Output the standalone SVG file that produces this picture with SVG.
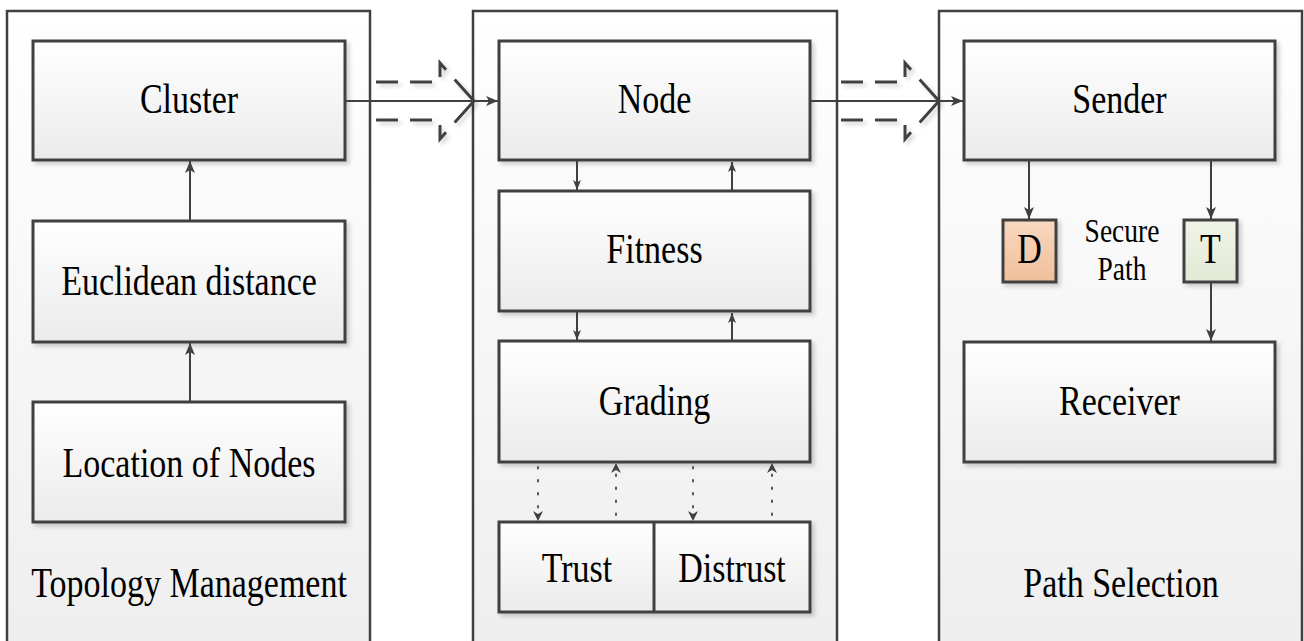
<svg xmlns="http://www.w3.org/2000/svg" width="1304" height="641" viewBox="0 0 1304 641">
  <defs>
    <linearGradient id="boxFill" x1="0" y1="0" x2="0" y2="1">
      <stop offset="0" stop-color="#ffffff"/>
      <stop offset="1" stop-color="#ebebeb"/>
    </linearGradient>
    <linearGradient id="panelFill" x1="0" y1="0" x2="0" y2="1">
      <stop offset="0" stop-color="#ffffff"/>
      <stop offset="1" stop-color="#eeeeee"/>
    </linearGradient>
    <linearGradient id="dFill" x1="0" y1="0" x2="0" y2="1">
      <stop offset="0" stop-color="#f8d8c0"/>
      <stop offset="1" stop-color="#f1bf9a"/>
    </linearGradient>
    <linearGradient id="tFill" x1="0" y1="0" x2="0" y2="1">
      <stop offset="0" stop-color="#f0f4e8"/>
      <stop offset="1" stop-color="#e2e9d4"/>
    </linearGradient>
    <filter id="shadow" x="-10%" y="-10%" width="130%" height="130%">
      <feDropShadow dx="3" dy="3" stdDeviation="2" flood-color="#000" flood-opacity="0.18"/>
    </filter>
    <marker id="arrow" viewBox="0 0 12 10" refX="12" refY="5" markerWidth="12" markerHeight="10" markerUnits="userSpaceOnUse" orient="auto">
      <path d="M0,0 L12,5 L0,10 L3,5 z" fill="#404040"/>
    </marker>
    <marker id="arrowSmall" viewBox="0 0 10 8" refX="10" refY="4" markerWidth="10" markerHeight="8" markerUnits="userSpaceOnUse" orient="auto">
      <path d="M0,0 L10,4 L0,8 L2.5,4 z" fill="#404040"/>
    </marker>
    <style>
      .panel { fill: url(#panelFill); stroke: #404040; stroke-width: 2.5; }
      .box { fill: url(#boxFill); stroke: #404040; stroke-width: 3; filter: url(#shadow); }
      .t { font-family: 'Liberation Serif', serif; font-size: 34px; fill: #000; text-anchor: middle; }
      .ts { font-family: 'Liberation Serif', serif; font-size: 27.5px; fill: #000; text-anchor: middle; }
      .link { stroke: #404040; stroke-width: 2; fill: none; }
      .dotted { stroke: #555555; stroke-width: 2; fill: none; stroke-dasharray: 1.5 11.5; stroke-linecap: round; }
      .hollow { stroke: #404040; stroke-width: 3; fill: none; stroke-dasharray: 22 12 22 13 23 13 40; filter: url(#shadow); }
    </style>
  </defs>

  <!-- Panels -->
  <g id="panel-topology">
    <rect class="panel" x="7" y="11" width="363" height="640"/>
    <text class="t" transform="translate(189,597) scale(1,1.24)">Topology Management</text>
  </g>
  <g id="panel-trust">
    <rect class="panel" x="473" y="11" width="364" height="640"/>
  </g>
  <g id="panel-path">
    <rect class="panel" x="939" y="11" width="363" height="640"/>
    <text class="t" transform="translate(1121,597) scale(1,1.24)">Path Selection</text>
  </g>

  <!-- Topology management nodes -->
  <g id="node-cluster">
    <rect class="box" x="33" y="41" width="312" height="119"/>
    <text class="t" transform="translate(189,113) scale(1,1.24)">Cluster</text>
  </g>
  <g id="node-euclidean">
    <rect class="box" x="33" y="221" width="312" height="121"/>
    <text class="t" transform="translate(189,295) scale(1,1.24)">Euclidean distance</text>
  </g>
  <g id="node-location">
    <rect class="box" x="33" y="402" width="312" height="120"/>
    <text class="t" transform="translate(189,477) scale(1,1.24)">Location of Nodes</text>
  </g>

  <!-- Trust evaluation nodes -->
  <g id="node-node">
    <rect class="box" x="499" y="41" width="311" height="119"/>
    <text class="t" transform="translate(654.5,113) scale(1,1.24)">Node</text>
  </g>
  <g id="node-fitness">
    <rect class="box" x="499" y="191" width="311" height="120"/>
    <text class="t" transform="translate(654.5,263) scale(1,1.24)">Fitness</text>
  </g>
  <g id="node-grading">
    <rect class="box" x="499" y="341" width="311" height="121"/>
    <text class="t" transform="translate(654.5,415) scale(1,1.24)">Grading</text>
  </g>
  <g id="node-trust-distrust">
    <rect class="box" x="499" y="522" width="311" height="90"/>
    <line x1="654" y1="522" x2="654" y2="612" stroke="#404040" stroke-width="3"/>
    <text class="t" transform="translate(577,582) scale(1,1.24)">Trust</text>
    <text class="t" transform="translate(732,582) scale(1,1.24)">Distrust</text>
  </g>

  <!-- Path selection nodes -->
  <g id="node-sender">
    <rect class="box" x="964" y="41" width="311" height="119"/>
    <text class="t" transform="translate(1119.5,113) scale(1,1.24)">Sender</text>
  </g>
  <g id="node-d">
    <rect class="box" x="1003" y="220" width="53" height="62" style="fill:url(#dFill)"/>
    <text class="t" transform="translate(1029.5,263) scale(1,1.24)">D</text>
  </g>
  <g id="node-t">
    <rect class="box" x="1184" y="220" width="53" height="62" style="fill:url(#tFill)"/>
    <text class="t" transform="translate(1210.5,263) scale(1,1.24)">T</text>
  </g>
  <g id="label-secure-path">
    <text class="ts" transform="translate(1122,242) scale(1,1.2)">Secure</text>
    <text class="ts" transform="translate(1122,280) scale(1,1.2)">Path</text>
  </g>
  <g id="node-receiver">
    <rect class="box" x="964" y="342" width="311" height="120"/>
    <text class="t" transform="translate(1119.5,415) scale(1,1.24)">Receiver</text>
  </g>

  <!-- Connectors -->
  <g id="connectors">
    <!-- stage transfer: hollow dashed arrows -->
    <path class="hollow" d="M376,82 H440 V63 L474,101"/>
    <path class="hollow" d="M376,120 H440 V139 L474,101"/>
    <path class="hollow" d="M841,82 H905 V63 L939,101"/>
    <path class="hollow" d="M841,120 H905 V139 L939,101"/>
    <line class="link" x1="345" y1="101" x2="498" y2="101" marker-end="url(#arrow)"/>
    <line class="link" x1="810" y1="101" x2="963" y2="101" marker-end="url(#arrow)"/>

    <!-- topology management -->
    <line class="link" x1="190" y1="221" x2="190" y2="161" marker-end="url(#arrow)"/>
    <line class="link" x1="190" y1="402" x2="190" y2="343" marker-end="url(#arrow)"/>

    <!-- trust evaluation -->
    <line class="link" x1="577" y1="161" x2="577" y2="190" marker-end="url(#arrowSmall)"/>
    <line class="link" x1="732" y1="191" x2="732" y2="162" marker-end="url(#arrowSmall)"/>
    <line class="link" x1="577" y1="312" x2="577" y2="340" marker-end="url(#arrowSmall)"/>
    <line class="link" x1="732" y1="341" x2="732" y2="313" marker-end="url(#arrowSmall)"/>
    <line class="dotted" x1="538" y1="467" x2="538" y2="512"/>
    <path d="M533,511 L538,521 L543,511 L538,514 z" fill="#404040"/>
    <line class="dotted" x1="616" y1="515" x2="616" y2="472"/>
    <path d="M611,473 L616,463 L621,473 L616,470 z" fill="#404040"/>
    <line class="dotted" x1="693" y1="467" x2="693" y2="512"/>
    <path d="M688,511 L693,521 L698,511 L693,514 z" fill="#404040"/>
    <line class="dotted" x1="772" y1="515" x2="772" y2="472"/>
    <path d="M767,473 L772,463 L777,473 L772,470 z" fill="#404040"/>

    <!-- path selection -->
    <line class="link" x1="1029" y1="161" x2="1029" y2="219" marker-end="url(#arrow)"/>
    <line class="link" x1="1211" y1="161" x2="1211" y2="219" marker-end="url(#arrow)"/>
    <line class="link" x1="1211" y1="283" x2="1211" y2="341" marker-end="url(#arrow)"/>
  </g>
</svg>
